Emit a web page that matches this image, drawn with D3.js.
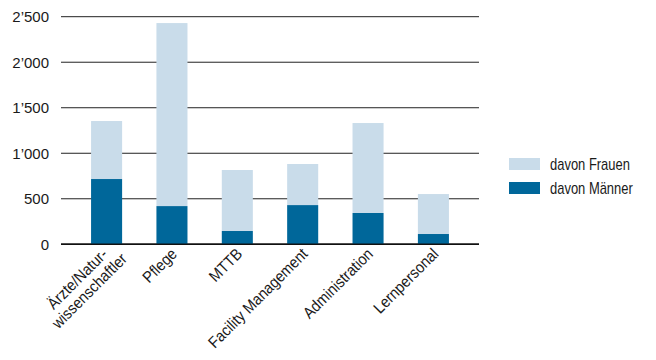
<!DOCTYPE html>
<html>
<head>
<meta charset="utf-8">
<script src="https://cdn.jsdelivr.net/npm/d3@7"></script>
<style>
  html, body { margin: 0; padding: 0; background: #fff; }
  svg { display: block; }
  .tick-label { font-family: "Liberation Sans", Arial, sans-serif; font-size: 15px; fill: #1a1a1a; }
  .cat-label, .legend-label { font-family: "Liberation Sans", Arial, sans-serif; font-size: 16px; fill: #1a1a1a; }
</style>
</head>
<body>
<svg id="chart" width="656" height="360"></svg>
<script>
// Staff by professional group, split by gender
const categories = [["Ärzte/Natur-", "wissenschaftler"], ["Pflege"], ["MTTB"], ["Facility Management"], ["Administration"], ["Lernpersonal"]];
const maenner = [717, 420, 146, 431, 344, 113];
const frauen  = [637, 2010, 670, 451, 988, 439];
const yTicks = [0, 500, 1000, 1500, 2000, 2500];
const seriesNames = ["davon Männer", "davon Frauen"];
const seriesColors = ["#00679a", "#c9dcea"];

const rows = categories.map((c, i) => ({ key: c.join(""), lines: c, m: maenner[i], f: frauen[i] }));

// horizontal squeeze that gives the labels a condensed look
const catSqueeze = 0.9;
const legendSqueeze = 0.81;

const svg = d3.select("#chart");

const x = d3.scaleBand()
  .domain(rows.map(d => d.key))
  .range([61, 479])
  .paddingInner(0.525)
  .paddingOuter(0.46);

const y = d3.scaleLinear().domain([0, 2500]).range([244.3, 16.7]);

// Swiss thousands separator
const fmt = v => {
  const s = String(v);
  return s.length > 3 ? s.slice(0, -3) + "\u2019" + s.slice(-3) : s;
};

// horizontal gridlines
svg.append("g")
  .selectAll("line")
  .data(yTicks)
  .join("line")
  .attr("x1", 61).attr("x2", 479)
  .attr("y1", d => y(d)).attr("y2", d => y(d))
  .attr("stroke", "#222")
  .attr("stroke-width", d => d === 0 ? 1.6 : 1);

// y tick labels
svg.append("g")
  .selectAll("text")
  .data(yTicks)
  .join("text")
  .attr("class", "tick-label")
  .attr("x", 49)
  .attr("y", d => y(d))
  .attr("dy", "0.36em")
  .attr("text-anchor", "end")
  .text(fmt);

// stacked bars: men at the bottom, women on top
const stack = d3.stack().keys(["m", "f"]);
const layers = stack(rows);

svg.append("g")
  .selectAll("g")
  .data(layers)
  .join("g")
  .attr("fill", (d, i) => seriesColors[i])
  .selectAll("rect")
  .data(d => d)
  .join("rect")
  .attr("x", d => x(d.data.key))
  .attr("width", x.bandwidth())
  .attr("y", d => y(d[1]))
  .attr("height", d => y(d[0]) - y(d[1]));

// baseline redrawn over bars
svg.append("line")
  .attr("x1", 61).attr("x2", 479)
  .attr("y1", y(0)).attr("y2", y(0))
  .attr("stroke", "#111").attr("stroke-width", 1.6);

// rotated category labels; multi-line labels are centred line by line
const lineH = 17;
const catG = svg.append("g");
rows.forEach(d => {
  const cx = x(d.key) + x.bandwidth() / 2;
  const n = d.lines.length;
  const ax = n > 1 ? cx + 9.4 : cx + 6;
  const ay = n > 1 ? 247.9 : 255;
  const g = catG.append("g").attr("transform", `translate(${ax},${ay}) rotate(-45)`);
  const texts = d.lines.map(ln => g.append("text")
    .attr("class", "cat-label")
    .text(ln));
  const widths = texts.map(t => t.node().getComputedTextLength() * catSqueeze);
  const maxW = d3.max(widths);
  texts.forEach((t, j) => {
    if (n > 1) {
      t.attr("text-anchor", "middle")
       .attr("transform", `translate(${-maxW / 2},${j * lineH}) scale(${catSqueeze},1)`);
    } else {
      t.attr("text-anchor", "end")
       .attr("transform", `scale(${catSqueeze},1)`);
    }
  });
});

// legend
const legend = svg.append("g");
const legendItems = [
  { name: seriesNames[1], color: seriesColors[1], y: 158 },
  { name: seriesNames[0], color: seriesColors[0], y: 182 }
];
legend.selectAll("rect")
  .data(legendItems)
  .join("rect")
  .attr("x", 509).attr("y", d => d.y)
  .attr("width", 31).attr("height", 12)
  .attr("fill", d => d.color);
legend.selectAll("text")
  .data(legendItems)
  .join("text")
  .attr("class", "legend-label")
  .attr("transform", d => `translate(550,${d.y + 6}) scale(${legendSqueeze},1)`)
  .attr("dy", "0.36em")
  .text(d => d.name);
</script>
</body>
</html>
